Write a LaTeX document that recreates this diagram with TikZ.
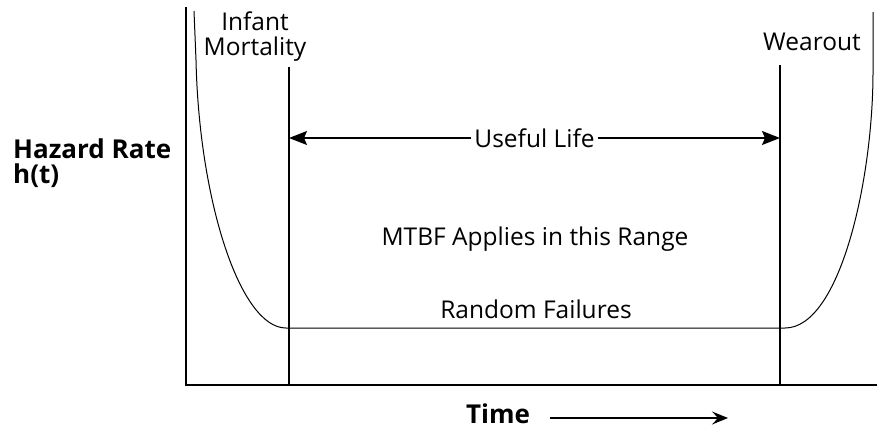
\documentclass[tikz,border=0pt]{standalone}
\usepackage{fontspec}
\setmainfont{Open Sans}
\usetikzlibrary{arrows.meta}

\tikzset{
  txt/.style={inner sep=0pt, font=\fontsize{24.5}{25}\selectfont},
  head/.style={inner sep=0pt, font=\fontsize{26}{25}\selectfont\bfseries},
  axis/.style={line width=1.5pt, line join=miter},
  bound/.style={line width=1.3pt},
  curve/.style={line width=1pt},
}

\begin{document}
\begin{tikzpicture}[x=1pt, y=-1pt]
\useasboundingbox (0,0) rectangle (877,431);

\coordinate (ytop) at (186,7);
\coordinate (orig) at (186,385);
\coordinate (xend) at (877,385);
\coordinate (imtop) at (289,67);
\coordinate (imbot) at (289,385);
\coordinate (wotop) at (780,65);
\coordinate (wobot) at (780,385);
\coordinate (imarr) at (289,138);
\coordinate (woarr) at (780,138);
\coordinate (flatl) at (286,328);
\coordinate (flatr) at (785,328);
\coordinate (tend) at (728,418);

% labels (base anchor sits on the last line)
\node[head, align=left, anchor=base west] (hazard) at (13,183) {Hazard Rate\\h(t)};
\node[txt, align=center, anchor=base] (infant) at (255,55) {Infant\\Mortality};
\node[txt, anchor=base] (wear) at (812,50) {Wearout};
\node[txt, fill=white, inner xsep=3pt] (life) at (534.5,138) {Useful Life};
\node[txt, anchor=base] (mtbf) at (535,245) {MTBF Applies in this Range};
\node[txt, anchor=base] (random) at (536,318) {Random Failures};
\node[head, anchor=base] (time) at (498,423) {Time};

\draw[axis] (ytop) -- (orig) -- (xend);
\draw[bound] (imtop) -- (imbot);
\draw[bound] (wotop) -- (wobot);

\draw[curve] (194,11) -- (196,60) .. controls (199,200) and (240,328) .. (flatl)
  -- (flatr) .. controls (840,328) and (873,180) .. (873,72) -- (873,12);

\begin{scope}[bound, -{Stealth[length=18pt, width=14pt, inset=3pt]}]
  \draw (life) -- (imarr);
  \draw (life) -- (woarr);
\end{scope}
\draw[line width=1.2pt, -{Stealth[length=16pt, width=13pt, inset=6pt]}]
  ([xshift=20pt]time.east |- tend) -- (tend);

\end{tikzpicture}
\end{document}
